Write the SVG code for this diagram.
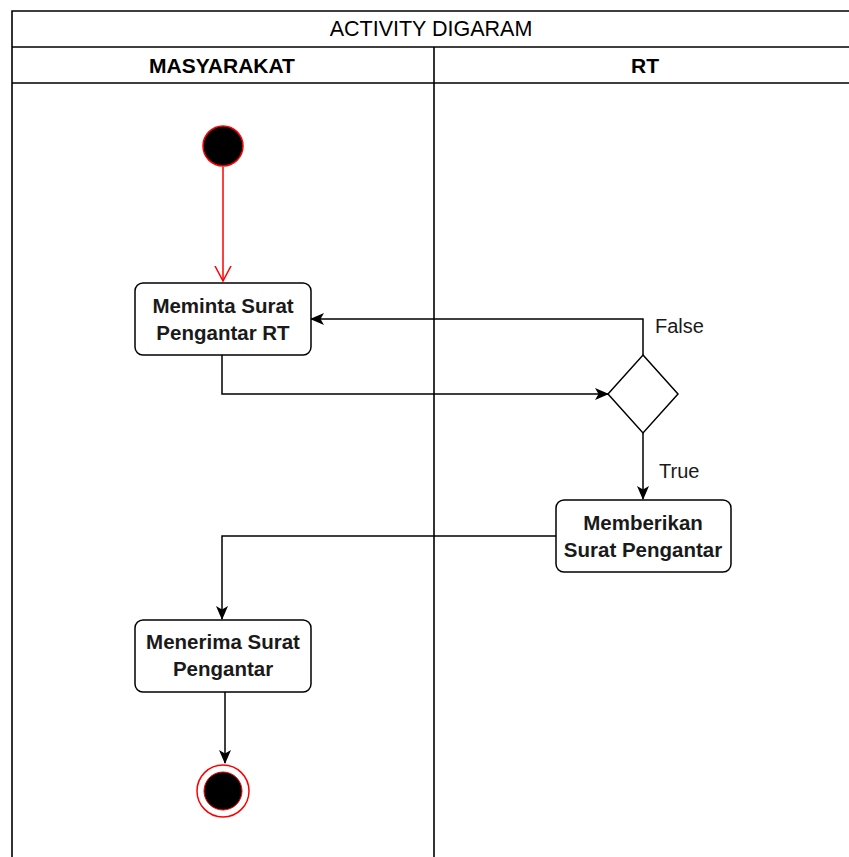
<svg xmlns="http://www.w3.org/2000/svg" width="849" height="857" viewBox="0 0 849 857">
  <style>
    .frame { fill: none; stroke: #000; stroke-width: 1.6; }
    .lbl { font-family: "Liberation Sans", Arial, sans-serif; font-size: 21.5px; fill: #000; text-anchor: middle; dominant-baseline: central; }
    .hdr { font-family: "Liberation Sans", Arial, sans-serif; font-size: 21px; font-weight: bold; fill: #000; text-anchor: middle; dominant-baseline: central; }
    .act rect { fill: #fff; stroke: #000; stroke-width: 1.5; }
    .act text { font-family: "Liberation Sans", Arial, sans-serif; font-size: 20.5px; font-weight: bold; fill: #1a1a1a; text-anchor: middle; dominant-baseline: central; }
    .edge { fill: none; stroke: #000; stroke-width: 1.5; }
    .guard { font-family: "Liberation Sans", Arial, sans-serif; font-size: 20px; fill: #1a1a1a; dominant-baseline: central; }
  </style>
  <defs>
    <marker id="arrow" viewBox="0 0 14 12" refX="13" refY="6" markerWidth="14" markerHeight="12" markerUnits="userSpaceOnUse" orient="auto">
      <path d="M0,0 L14,6 L0,12 L3.5,6 Z" fill="#000"/>
    </marker>
    <marker id="open" viewBox="0 0 16 18" refX="15" refY="9" markerWidth="16" markerHeight="18" markerUnits="userSpaceOnUse" orient="auto">
      <path d="M0,1 L15,9 L0,17" fill="none" stroke="#f00" stroke-width="1.5"/>
    </marker>
  </defs>

  <rect width="849" height="857" fill="#fff"/>

  <!-- swimlane frame -->
  <g id="pool">
    <path class="frame" d="M12,857 V11 H849 M12,47 H849 M12,83 H849 M434,47 V857"/>
    <text class="lbl" x="431" y="29">ACTIVITY DIGARAM</text>
    <text class="hdr" x="222" y="65">MASYARAKAT</text>
    <text class="hdr" x="645" y="65">RT</text>
  </g>

  <!-- connectors -->
  <g id="connectors">
    <path d="M223,167 V281" fill="none" stroke="#f00" stroke-width="1.5" marker-end="url(#open)"/>
    <path class="edge" d="M222,355 V394 H608" marker-end="url(#arrow)"/>
    <path class="edge" d="M643,355 V319 H311" marker-end="url(#arrow)"/>
    <path class="edge" d="M643,432 V499" marker-end="url(#arrow)"/>
    <path class="edge" d="M556,536 H222 V619" marker-end="url(#arrow)"/>
    <path class="edge" d="M225,692 V763" marker-end="url(#arrow)"/>
    <text class="guard" x="655" y="326">False</text>
    <text class="guard" x="659" y="471">True</text>
  </g>

  <g id="start">
    <circle cx="223" cy="146" r="20" fill="#000" stroke="#f00" stroke-width="1.5"/>
  </g>

  <g id="meminta" class="act">
    <rect x="135" y="283" width="176" height="72" rx="8"/>
    <text x="223" y="305">Meminta Surat</text>
    <text x="223" y="332">Pengantar RT</text>
  </g>

  <g id="decision">
    <path d="M643,355 L678,394 L643,433 L608,394 Z" fill="#fff" stroke="#000" stroke-width="1.5"/>
  </g>

  <g id="memberikan" class="act">
    <rect x="556" y="500" width="175" height="72" rx="8"/>
    <text x="643" y="522">Memberikan</text>
    <text x="643" y="549">Surat Pengantar</text>
  </g>

  <g id="menerima" class="act">
    <rect x="135" y="620" width="176" height="72" rx="8"/>
    <text x="223" y="641">Menerima Surat</text>
    <text x="223" y="668">Pengantar</text>
  </g>

  <g id="end">
    <circle cx="223" cy="791" r="26" fill="#fff" stroke="#f00" stroke-width="1.5"/>
    <circle cx="223" cy="791" r="19" fill="#000" stroke="#f00" stroke-width="1"/>
  </g>
</svg>
